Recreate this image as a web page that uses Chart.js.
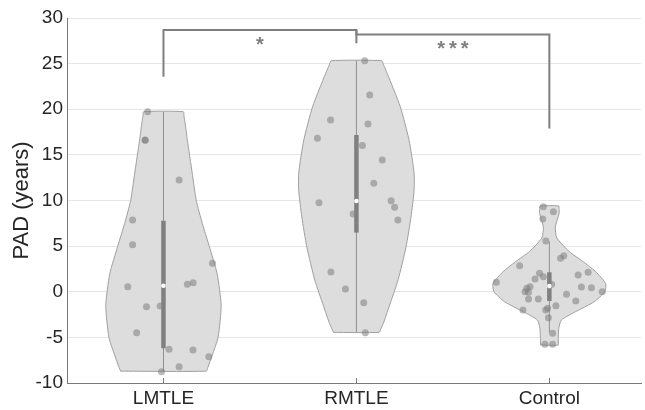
<!DOCTYPE html>
<html>
<head>
<meta charset="utf-8">
<script src="https://cdn.jsdelivr.net/npm/chart.js@4.4.1/dist/chart.umd.min.js"></script>
<style>
  html, body { margin: 0; padding: 0; background: #fff; overflow: hidden; }
  #wrap { width: 645px; height: 410px; position: relative; }
</style>
</head>
<body>
<div id="wrap"><canvas id="padChart"></canvas></div>
<script>
// Groups on the x axis
const categories = ['LMTLE', 'RMTLE', 'Control'];
const yTicks = [-10, -5, 0, 5, 10, 15, 20, 25, 30];

// Violin outlines: PAD level and half width (in category units) at that level
const lmtleLevels = [-8.7, -8.3, -7.0, -5.0, -1.5, 2.0, 5.0, 7.5, 10.0, 13.0, 16.6, 18.5, 19.3, 19.73];
const lmtleWidths = [0.222, 0.230, 0.252, 0.283, 0.299, 0.278, 0.237, 0.201, 0.170, 0.149, 0.124, 0.112, 0.106, 0.103];
const rmtleLevels = [-4.45, -4.1, -3.5, -1.6, 1.3, 4.9, 8.2, 11.1, 13.0, 16.6, 20.3, 23.9, 24.9, 25.32];
const rmtleWidths = [0.118, 0.126, 0.139, 0.170, 0.216, 0.257, 0.283, 0.299, 0.299, 0.273, 0.227, 0.160, 0.140, 0.131];
const controlLevels = [-5.84, -5.4, -4.0, -3.1, -2.2, -1.1, 0.0, 0.9, 2.2, 3.3, 4.4, 5.9, 7.1, 8.6, 9.1, 9.4];
const controlWidths = [0.046, 0.046, 0.049, 0.062, 0.134, 0.232, 0.287, 0.292, 0.240, 0.175, 0.103, 0.039, 0.031, 0.051, 0.050, 0.049];

// Individual subjects: PAD value and horizontal jitter
const lmtleValues = [19.73, 16.63, 16.6, 12.25, 7.86, 5.16, 0.55, 0.81, 0.99, 3.11, -1.64, -1.56, -4.48, -6.31, -6.38, -7.11, -8.21, -8.76];
const lmtleJitter = [-0.082, -0.096, -0.094, 0.081, -0.160, -0.160, -0.185, 0.124, 0.154, 0.254, -0.088, -0.017, -0.139, 0.029, 0.153, 0.235, 0.081, -0.010];
const rmtleValues = [25.32, 21.56, 18.82, 18.38, 16.81, 16.04, 14.44, 11.88, 9.76, 9.98, 9.25, 8.52, 7.86, 2.16, 0.30, -1.20, -4.48];
const rmtleJitter = [0.043, 0.069, -0.134, 0.060, -0.202, 0.031, 0.134, 0.090, -0.194, 0.180, 0.198, -0.017, 0.215, -0.132, -0.057, 0.038, 0.046];
const controlValues = [9.32, 8.77, 7.97, 5.56, 3.66, 3.95, 2.85, 2.02, 1.65, 1.40, 1.84, 2.13, 1.03, 0.55, 0.37, -0.06, 0.0, 0.81, 0.52, 0.45, 0.0, -0.28, -0.79, -0.79, -1.01, -1.53, -1.82, -2.0, -2.0, -2.84, -4.55, -5.76, -5.76];
const controlJitter = [-0.031, 0.021, -0.034, -0.018, 0.058, 0.075, -0.154, -0.051, -0.031, -0.074, 0.149, 0.201, -0.275, -0.100, -0.117, -0.108, -0.126, 0.012, 0.166, 0.218, 0.274, 0.089, -0.057, -0.108, 0.137, 0.034, -0.009, -0.019, -0.137, -0.005, 0.017, -0.023, 0.017];

// Summary per group: whisker low/high, quartiles, median
const whiskerLow = [-8.76, -4.48, -4.45];
const whiskerHigh = [19.73, 25.32, 5.49];
const quartile1 = [-6.2, 6.48, -1.01];
const quartile3 = [7.79, 17.18, 2.13];
const medians = [0.66, 9.94, 0.62];

// Significance brackets: [from group, to group, bar level, left foot, right foot, label]
const brackets = [
    [1, 2, 28.68, 23.57, 27.23, '*'],
    [2, 3, 28.2, 28.68, 17.9, '***']
];

const AXIS_GREY = '#7a7a7a';
const TEXT_COLOR = '#262626';
const FONT = "'Liberation Sans', Arial, sans-serif";

function violinOutline(center, levels, widths) {
    const pts = [];
    for (let i = 0; i < levels.length; i++) {
        pts.push({ x: center - widths[i], y: levels[i] });
    }
    for (let i = levels.length - 1; i >= 0; i--) {
        pts.push({ x: center + widths[i], y: levels[i] });
    }
    pts.push({ x: center - widths[0], y: levels[0] });
    return pts;
}

function jitterPoints(center, values, jitter) {
    return values.map((v, i) => ({ x: center + jitter[i], y: v }));
}

const groups = [
    { levels: lmtleLevels, widths: lmtleWidths, values: lmtleValues, jitter: lmtleJitter },
    { levels: rmtleLevels, widths: rmtleWidths, values: rmtleValues, jitter: rmtleJitter },
    { levels: controlLevels, widths: controlWidths, values: controlValues, jitter: controlJitter }
];

const datasets = [];

groups.forEach((g, i) => {
    const center = i + 1;
    // violin body
    datasets.push({
        data: violinOutline(center, g.levels, g.widths),
        showLine: true,
        fill: 'shape',
        backgroundColor: '#dddddd',
        borderColor: '#9f9f9f',
        borderWidth: 1,
        pointRadius: 0,
        tension: 0.2,
        order: 10
    });
    // whisker line
    datasets.push({
        data: [{ x: center, y: whiskerLow[i] }, { x: center, y: whiskerHigh[i] }],
        showLine: true,
        borderColor: '#8f8f8f',
        borderWidth: 1,
        pointRadius: 0,
        order: 8
    });
    // subjects
    datasets.push({
        data: jitterPoints(center, g.values, g.jitter),
        backgroundColor: 'rgba(125,125,125,0.55)',
        borderWidth: 0,
        pointRadius: 3.5,
        order: 7
    });
    // interquartile bar
    datasets.push({
        data: [{ x: center, y: quartile1[i] }, { x: center, y: quartile3[i] }],
        showLine: true,
        borderColor: '#808080',
        borderWidth: 4.5,
        borderCapStyle: 'butt',
        pointRadius: 0,
        order: 5
    });
    // median
    datasets.push({
        data: [{ x: center, y: medians[i] }],
        backgroundColor: '#ffffff',
        borderWidth: 0,
        pointRadius: 2.3,
        order: 4
    });
});

// bracket lines
brackets.forEach(b => {
    datasets.push({
        data: [
            { x: b[0], y: b[3] },
            { x: b[0], y: b[2] },
            { x: b[1], y: b[2] },
            { x: b[1], y: b[4] }
        ],
        showLine: true,
        borderColor: '#7f7f7f',
        borderWidth: 2,
        pointRadius: 0,
        order: 2
    });
});

// star labels above brackets + inward x ticks
const extrasPlugin = {
    id: 'extras',
    afterDatasetsDraw(chart) {
        const ctx = chart.ctx;
        const xs = chart.scales.x;
        const ys = chart.scales.y;
        ctx.save();
        ctx.fillStyle = '#7f7f7f';
        ctx.font = 'bold 20px ' + FONT;
        ctx.textAlign = 'center';
        ctx.textBaseline = 'middle';
        brackets.forEach(b => {
            const px = xs.getPixelForValue((b[0] + b[1]) / 2);
            const py = ys.getPixelForValue(b[2]) + 15;
            ctx.fillText(b[5].split('').join('\u2009'), px, py);
        });
        ctx.strokeStyle = AXIS_GREY;
        ctx.lineWidth = 1;
        const bottom = chart.chartArea.bottom;
        categories.forEach((c, i) => {
            const px = Math.round(xs.getPixelForValue(i + 1)) + 0.5;
            ctx.beginPath();
            ctx.moveTo(px, bottom);
            ctx.lineTo(px, bottom - 5);
            ctx.stroke();
        });
        ctx.restore();
    }
};

const ctx = document.getElementById('padChart').getContext('2d');
new Chart(ctx, {
    type: 'scatter',
    data: { datasets: datasets },
    plugins: [extrasPlugin],
    options: {
        responsive: true,
        maintainAspectRatio: false,
        animation: false,
        layout: { padding: { top: 18, right: 0, left: 0, bottom: 0 } },
        plugins: {
            legend: { display: false },
            tooltip: { enabled: false }
        },
        scales: {
            x: {
                type: 'linear',
                min: 0.5,
                max: 3.475,
                afterBuildTicks: scale => {
                    scale.ticks = categories.map((c, i) => ({ value: i + 1 }));
                },
                afterFit: scale => { scale.height = 27; },
                grid: { display: false, drawTicks: false },
                border: { display: true, color: AXIS_GREY, width: 1 },
                ticks: {
                    color: TEXT_COLOR,
                    font: { family: FONT, size: 19 },
                    padding: 4,
                    maxRotation: 0,
                    callback: v => categories[v - 1] || ''
                }
            },
            y: {
                min: -10,
                max: 30,
                afterBuildTicks: scale => {
                    scale.ticks = yTicks.map(v => ({ value: v }));
                },
                afterFit: scale => { scale.width = 67; },
                grid: { color: '#e6e6e6', drawTicks: false },
                border: { display: true, color: AXIS_GREY, width: 1 },
                ticks: {
                    color: TEXT_COLOR,
                    font: { family: FONT, size: 19 },
                    padding: 4
                },
                title: {
                    display: true,
                    text: 'PAD (years)',
                    color: TEXT_COLOR,
                    font: { family: FONT, size: 22 },
                    padding: { top: 9, bottom: 0 }
                }
            }
        }
    }
});
</script>
</body>
</html>
